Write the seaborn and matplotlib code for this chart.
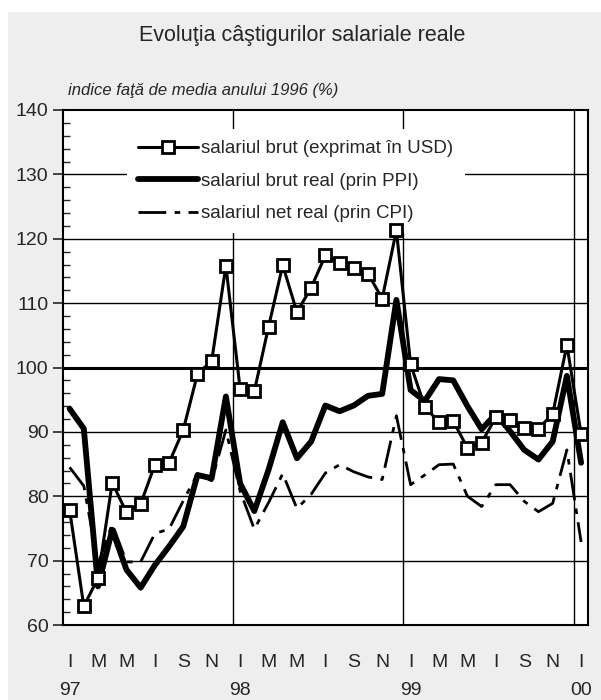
import numpy as np
import pandas as pd
import seaborn as sns
import matplotlib.pyplot as plt
from matplotlib.patches import Rectangle
from matplotlib.ticker import MultipleLocator
import matplotlib.transforms as mtransforms

# monthly data, Jan 1997 - Jan 2000 (index vs 1996 average, %)
brut_usd = [77.9, 62.9, 67.3, 82.1, 77.5, 78.8, 84.9, 85.2, 90.3, 99.0, 101.0, 115.8,
            96.7, 96.3, 106.3, 115.9, 108.6, 112.4, 117.4, 116.2, 115.4, 114.6, 110.7, 121.3,
            100.5, 93.9, 91.5, 91.7, 87.5, 88.3, 92.3, 91.9, 90.6, 90.5, 92.8, 103.5, 89.7]
brut_real_ppi = [93.6, 90.5, 66.0, 74.8, 68.6, 65.8, 69.3, 72.2, 75.3, 83.3, 82.8, 95.5,
                 82.0, 77.7, 84.1, 91.5, 85.9, 88.5, 94.1, 93.2, 94.1, 95.6, 95.9, 110.5,
                 96.5, 94.8, 98.2, 98.0, 94.0, 90.4, 92.8, 90.1, 87.2, 85.7, 88.5, 98.7, 85.2]
net_real_cpi = [84.5, 81.6, 69.5, 75.7, 69.8, 69.8, 74.2, 74.9, 79.3, 83.5, 82.4, 90.3,
                80.8, 74.9, 79.0, 83.5, 78.1, 80.3, 83.6, 84.9, 83.8, 83.0, 82.6, 92.5,
                81.8, 83.3, 84.9, 85.0, 80.0, 78.4, 81.8, 81.8, 79.2, 77.6, 78.9, 87.2, 72.9]
month_labels = ["I", "M", "M", "I", "S", "N"] * 3 + ["I"]
year_labels = ["97", "98", "99", "00"]

df = pd.DataFrame({
    "luna": np.arange(len(brut_usd)),
    "brut_usd": brut_usd,
    "brut_real": brut_real_ppi,
    "net_real": net_real_cpi,
})

sns.set_style("white")
plt.rcParams["font.family"] = ["Liberation Sans Narrow", "Liberation Sans", "DejaVu Sans"]

fig = plt.figure(figsize=(6.01, 7.0), dpi=100, facecolor="white")
fig.patches.append(Rectangle((8 / 601, 0), 1, (700 - 12) / 700, transform=fig.transFigure,
                             facecolor="#eeeeee", edgecolor="none", zorder=-10))
ax = fig.add_axes([62.5 / 601, 75 / 700, 525.7 / 601, 515 / 700])
ax.set_facecolor("white")

# grid
for v in range(70, 140, 10):
    ax.axhline(v, color="black", lw=2.2 if v == 100 else 1.0, zorder=1)
for x in [11.5, 23.5, 35.5]:
    ax.axvline(x, color="black", lw=1.0, zorder=1)

sns.lineplot(data=df, x="luna", y="brut_real", ax=ax, color="black", lw=4.2,
             label="salariul brut real (prin PPI)", zorder=3)
sns.lineplot(data=df, x="luna", y="net_real", ax=ax, color="black", lw=2.0,
             dashes=False, label="salariul net real (prin CPI)", zorder=3)
ax.lines[-1].set_dashes([10, 3, 2, 3])
sns.lineplot(data=df, x="luna", y="brut_usd", ax=ax, color="black", lw=2.2,
             marker="s", markersize=9, markerfacecolor="white", markeredgecolor="black",
             markeredgewidth=2.0, label="salariul brut (exprimat în USD)", zorder=4)

ax.set_xlim(-0.5, 36.5)
ax.set_ylim(60, 140)
ax.yaxis.set_major_locator(MultipleLocator(10))
ax.yaxis.set_minor_locator(MultipleLocator(2))
ax.tick_params(axis="y", which="major", direction="out", length=7, width=1.2,
               labelsize=14, pad=3, left=True)
ax.tick_params(axis="y", which="minor", direction="in", length=5, width=1.0, left=True)
ax.set_xticks(range(0, 37, 2))
ax.set_xticklabels(month_labels)
ax.tick_params(axis="x", length=0, labelsize=14, pad=21)
for s in ax.spines.values():
    s.set_color("black")
    s.set_linewidth(1.5)
ax.set_xlabel("")
ax.set_ylabel("")

trans = mtransforms.blended_transform_factory(ax.transData, ax.transAxes)
for i, lab in enumerate(year_labels):
    ax.text(i * 12, -0.127, lab, transform=trans, ha="center", va="center", fontsize=14)

fig.text(0.503, 1 - 35 / 700, "Evoluţia câştigurilor salariale reale", ha="center",
         va="center", fontsize=15.5, fontweight="medium")
fig.text(68 / 601, 1 - 90 / 700, "indice faţă de media anului 1996 (%)", ha="left",
         va="center", fontsize=12, style="italic")

h, l = ax.get_legend_handles_labels()
order = [2, 0, 1]
leg = ax.legend([h[i] for i in order], [l[i] for i in order], loc="upper left",
                bbox_to_anchor=(0.123, 0.9635), fontsize=13.5, frameon=True, fancybox=False,
                facecolor="white", edgecolor="none", framealpha=1, borderpad=0.6,
                handlelength=3.2, handletextpad=0.15, labelspacing=0.82, borderaxespad=0)
leg.set_zorder(2)

fig.savefig("out.png", dpi=100)
